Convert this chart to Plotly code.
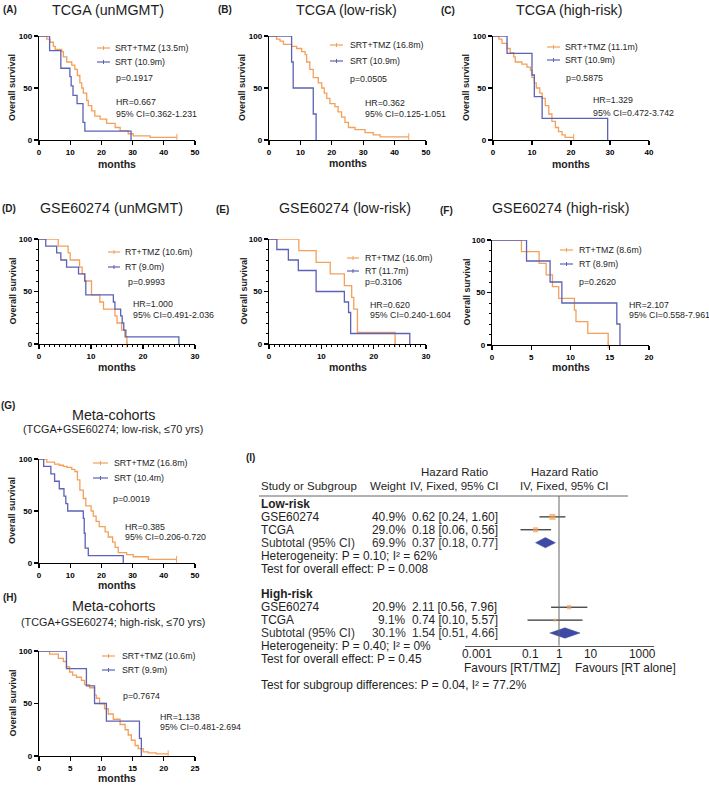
import plotly.graph_objects as go

W, H = 709, 785
def px(x): return x / W
def py(y): return 1 - y / H

ORANGE = "#F4A05A"
BLUE = "#5C62B5"
NAVY = "#3E4AA3"
FONT = "Liberation Sans, Arial, sans-serif"
TXT = "#1e1e1e"

# ---------------- Kaplan-Meier data (months, % survival) ----------------
A_tmz_t = [0, 2.5, 3.5, 4.6, 5.2, 7.3, 7.8, 8.9, 10.5, 11.5, 12.3, 13.1, 13.7, 14.2, 15.3, 15.8, 16.9, 17.9, 19.6, 21.7, 24.4, 26.0, 28.6, 30.2, 35.6, 44.2]
A_tmz_s = [100, 97, 94, 90, 87, 85, 80, 75, 72, 68, 62, 55, 50, 45, 38, 33, 28, 23, 20, 16, 12, 9, 6, 4, 2.5, 2.5]
A_srt_t = [0, 3.4, 7.0, 9.9, 10.3, 10.9, 12.2, 14.1, 14.7, 29.5]
A_srt_s = [100, 86, 69, 61, 52, 43, 35, 17, 8.6, 0]

B_tmz_t = [0, 2.4, 3.5, 4.6, 7.2, 8.8, 10.4, 11.5, 12.0, 13.0, 14.1, 15.7, 16.8, 17.6, 18.4, 19.4, 21.0, 22.0, 23.1, 24.2, 25.3, 27.4, 30.6, 33.2, 35.4, 44.5]
B_tmz_s = [100, 97, 95, 92, 90, 88, 85, 82, 75, 68, 60, 55, 50, 45, 40, 35, 32, 27, 22, 17, 12, 10, 7, 5, 3, 3]
B_srt_t = [0, 7.2, 7.7, 14.1, 15.0]
B_srt_s = [100, 75, 50, 25, 0]

C_tmz_t = [0, 1.5, 2.3, 3.6, 4.4, 5.3, 5.7, 7.4, 8.7, 9.6, 10.0, 10.6, 11.1, 12.0, 12.6, 13.4, 14.3, 15.1, 16.0, 16.8, 17.7, 18.5, 20.7]
C_tmz_s = [100, 97, 93, 88, 84, 80, 75, 73, 70, 67, 60, 55, 50, 45, 40, 33, 25, 18, 12, 8, 5, 2.5, 2.5]
C_srt_t = [0, 3.6, 10.0, 10.6, 12.6, 29.4]
C_srt_s = [100, 83.3, 62.5, 41.7, 20.8, 0]

D_tmz_t = [0, 3.7, 5.6, 6.0, 7.8, 8.3, 8.8, 10.1, 11.7, 12.4, 14.6, 15.0, 15.9, 16.5, 16.9]
D_tmz_s = [100, 93.3, 86.7, 80, 73.3, 66.7, 60, 46.7, 40, 33.3, 26.7, 20, 13.3, 6.7, 0]
D_rt_t = [0, 1.3, 3.4, 4.2, 5.3, 7.6, 8.8, 9.0, 14.3, 14.6, 15.7, 16.0, 16.3, 16.7, 26.9]
D_rt_s = [100, 93.3, 86.7, 80, 73.3, 66.7, 60, 46.7, 40, 33.3, 26.7, 20, 13.3, 6.7, 0]

E_tmz_t = [0, 5.7, 9.0, 11.7, 14.4, 15.8, 16.2, 16.9, 24.1]
E_tmz_s = [100, 88.9, 77.8, 66.7, 55.6, 44.4, 33.3, 11.1, 0]
E_rt_t = [0, 1.5, 3.7, 5.6, 9.0, 14.4, 15.2, 15.6, 26.9]
E_rt_s = [100, 90, 80, 70, 50, 40, 30, 10, 0]

F_tmz_t = [0, 3.75, 6.0, 6.9, 7.7, 8.5, 10.5, 10.7, 12.2, 14.8]
F_tmz_s = [100, 88.9, 77.8, 66.7, 55.6, 44.4, 33.3, 22.2, 11.1, 0]
F_rt_t = [0, 4.4, 7.4, 8.9, 15.9, 16.3]
F_rt_s = [100, 80, 60, 40, 20, 0]

G_tmz_t = [0, 2.5, 5.0, 6.5, 7.8, 9.0, 10.5, 11.5, 12.3, 13.1, 14.2, 15.0, 16.7, 17.4, 18.3, 19.3, 21.2, 22.2, 23.6, 24.4, 25.4, 28.1, 30.2, 35.0, 44.1]
G_tmz_s = [100, 97, 95, 94, 93, 92, 90, 88, 80, 70, 62, 55, 50, 45, 40, 35, 30, 25, 20, 15, 10, 8, 6, 3.5, 3.5]
G_srt_t = [0, 1.5, 3.8, 5.0, 6.5, 8.0, 8.6, 9.2, 14.2, 14.5, 14.8, 15.8, 27.0]
G_srt_s = [100, 92.9, 85.7, 78.6, 71.4, 64.3, 57.1, 50, 42.9, 28.6, 14.3, 7.1, 0]

H_tmz_t = [0, 1.7, 3.1, 3.9, 4.4, 4.9, 5.4, 6.0, 6.8, 7.3, 8.1, 8.9, 9.2, 9.7, 10.5, 11.1, 11.9, 13.0, 13.8, 14.3, 14.8, 15.4, 15.9, 16.7, 17.5, 18.8, 20.7]
H_tmz_s = [100, 97, 93, 90, 85, 80, 77, 75, 72, 68, 65, 58, 55, 50, 45, 40, 35, 30, 25, 20, 15, 10, 7, 4, 3, 2, 2]
H_srt_t = [0, 4.4, 7.6, 8.9, 10.8, 16.1, 16.4]
H_srt_s = [100, 83.3, 66.7, 50, 33.3, 16.7, 0]

# ---------------- panel texts ----------------
panel_letters = ["(A)", "(B)", "(C)", "(D)", "(E)", "(F)", "(G)", "(H)"]
panel_titles = ["TCGA (unMGMT)", "TCGA (low-risk)", "TCGA (high-risk)",
                "GSE60274 (unMGMT)", "GSE60274 (low-risk)", "GSE60274 (high-risk)",
                "Meta-cohorts", "Meta-cohorts"]
panel_subtitles = ["", "", "", "", "", "",
                   "(TCGA+GSE60274; low-risk, ≤70 yrs)", "(TCGA+GSE60274; high-risk, ≤70 yrs)"]
legend_tmz = ["SRT+TMZ (13.5m)", "SRT+TMZ (16.8m)", "SRT+TMZ (11.1m)",
              "RT+TMZ (10.6m)", "RT+TMZ (16.0m)", "RT+TMZ (8.6m)",
              "SRT+TMZ (16.8m)", "SRT+TMZ (10.6m)"]
legend_ctl = ["SRT (10.9m)", "SRT (10.9m)", "SRT (10.9m)",
              "RT (9.0m)", "RT (11.7m)", "RT (8.9m)",
              "SRT (10.4m)", "SRT (9.9m)"]
p_values = ["p=0.1917", "p=0.0505", "p=0.5875", "p=0.9993", "p=0.3106", "p=0.2620", "p=0.0019", "p=0.7674"]
hr_values = ["HR=0.667", "HR=0.362", "HR=1.329", "HR=1.000", "HR=0.620", "HR=2.107", "HR=0.385", "HR=1.138"]
ci_values = ["95% CI=0.362-1.231", "95% CI=0.125-1.051", "95% CI=0.472-3.742", "95% CI=0.491-2.036",
             "95% CI=0.240-1.604", "95% CI=0.558-7.961", "95% CI=0.206-0.720", "95% CI=0.481-2.694"]
x_max = [50, 50, 40, 30, 30, 20, 50, 25]
x_dtick = [10, 10, 10, 10, 10, 5, 10, 5]
x_minor = [False, False, False, True, True, False, False, False]
y_minor = [False, False, False, True, True, True, False, False]

curves = [(A_tmz_t, A_tmz_s, A_srt_t, A_srt_s), (B_tmz_t, B_tmz_s, B_srt_t, B_srt_s),
          (C_tmz_t, C_tmz_s, C_srt_t, C_srt_s), (D_tmz_t, D_tmz_s, D_rt_t, D_rt_s),
          (E_tmz_t, E_tmz_s, E_rt_t, E_rt_s), (F_tmz_t, F_tmz_s, F_rt_t, F_rt_s),
          (G_tmz_t, G_tmz_s, G_srt_t, G_srt_s), (H_tmz_t, H_tmz_s, H_srt_t, H_srt_s)]

# ---------------- forest plot data ----------------
fp_study = ["GSE60274", "TCGA", "GSE60274", "TCGA"]
fp_weight = [40.9, 29.0, 20.9, 9.1]
fp_hr = [0.62, 0.18, 2.11, 0.74]
fp_lo = [0.24, 0.06, 0.56, 0.10]
fp_hi = [1.60, 0.56, 7.96, 5.57]
fp_row = [1, 2, 8, 9]
sub_weight = [69.9, 30.1]
sub_hr = [0.37, 1.54]
sub_lo = [0.18, 0.51]
sub_hi = [0.77, 4.66]
sub_row = [3, 10]
fp_ticktext = ["0.001", "0.1", "1", "10", "1000"]
fp_ticklabel_px = [477, 530, 559, 591, 642]   # label centres (pixels)

# ---------------- layout geometry (pixels) ----------------
boxes = [(39, 195, 36, 140), (269, 426, 36, 140), (493, 649, 36, 140),
         (39, 195, 239, 344), (269, 426, 239, 344), (492, 649, 240, 345),
         (39, 195, 459, 563), (39, 195, 651, 756)]
title_pos = [(108, 10), (346, 10), (569, 10), (111, 208), (345, 208), (560, 208), (113, 415), (113, 606)]
letter_pos = [(10, 10), (225, 10), (448, 11), (9, 209), (222, 210), (446, 211), (8, 405), (10, 597)]
sub_pos = [None] * 6 + [(113, 429), (113, 622)]
leg_line = [(97, 110, 48, 62), (330, 343, 45, 61), (547, 560, 47, 60), (108, 120, 252, 267),
            (347, 359, 258, 271), (560, 573, 250, 264), (93, 108, 463, 478), (102, 115, 656, 670)]
leg_text_x = [113, 348, 563, 123, 363, 577, 112, 120]
p_pos = [(114, 78), (348, 79), (564, 78), (126, 282), (363, 282), (577, 282), (111, 499), (121, 696)]
hr_pos = [(114, 102, 114), (363, 103, 114), (591, 100, 113), (131, 304, 315),
          (368, 305, 315), (627, 305, 315), (123, 527, 537), (158, 717, 727)]
ylab_x = [12, 242, 466, 12, 243, 466, 12, 12]
xlab_y = [164, 163, 164, 367, 367, 367, 585, 778]

fig = go.Figure()
annotations = []
shapes = []

def ann(x, y, text, size, xanchor="left", bold=False, color=TXT, xref="paper", yref="paper", textangle=0):
    annotations.append(dict(x=x, y=y, xref=xref, yref=yref, text=text, showarrow=False,
                            xanchor=xanchor, yanchor="middle", textangle=textangle,
                            font=dict(family=FONT, size=size, color=color,
                                      weight="bold" if bold else "normal")))

MINOR_ON = dict(ticklen=2, tickwidth=1, ticks="outside", tickcolor="black")
layout_axes = {}
for i in range(8):
    n = i + 1
    xl, xr, yt, yb = boxes[i]
    ax_common = dict(showline=True, linecolor="black", linewidth=1.3, ticks="outside",
                     ticklen=4, tickwidth=1.3, tickcolor="black", showgrid=False, zeroline=False,
                     tickfont=dict(family=FONT, size=8, color="black", weight="bold"))
    xminor = dict(dtick=1, **MINOR_ON) if x_minor[i] else dict(ticks="")
    yminor = dict(dtick=10, **MINOR_ON) if y_minor[i] else dict(ticks="")
    layout_axes[f"xaxis{n}"] = dict(domain=[px(xl), px(xr)], range=[0, x_max[i]], dtick=x_dtick[i],
                                    anchor=f"y{n}", minor=xminor, **ax_common)
    layout_axes[f"yaxis{n}"] = dict(domain=[py(yb), py(yt)], range=[0, 100], tickvals=[0, 50, 100],
                                    anchor=f"x{n}", minor=yminor, **ax_common)
    t1, s1, t2, s2 = curves[i]
    fig.add_trace(go.Scatter(x=t1, y=s1, mode="lines", line=dict(color=ORANGE, width=1.3, shape="hv"),
                             xaxis=f"x{n}", yaxis=f"y{n}", cliponaxis=False, showlegend=False))
    fig.add_trace(go.Scatter(x=t2, y=s2, mode="lines", line=dict(color=BLUE, width=1.3, shape="hv"),
                             xaxis=f"x{n}", yaxis=f"y{n}", cliponaxis=False, showlegend=False))
    fig.add_trace(go.Scatter(x=[t1[-1]], y=[s1[-1]], mode="markers",
                             marker=dict(symbol="line-ns", size=5, line=dict(color=ORANGE, width=1)),
                             xaxis=f"x{n}", yaxis=f"y{n}", cliponaxis=False, showlegend=False))
    tx, ty = title_pos[i]
    ann(px(tx), py(ty), panel_titles[i], 14.3, xanchor="center")
    lx, ly = letter_pos[i]
    ann(px(lx), py(ly), panel_letters[i], 10, xanchor="center", bold=True)
    if sub_pos[i]:
        sx, sy = sub_pos[i]
        ann(px(sx), py(sy), panel_subtitles[i], 10.8, xanchor="center")
    l0, l1, ly1, ly2 = leg_line[i]
    for col, yy in ((ORANGE, ly1), (BLUE, ly2)):
        shapes.append(dict(type="line", xref="paper", yref="paper", x0=px(l0), x1=px(l1),
                           y0=py(yy), y1=py(yy), line=dict(color=col, width=1.2)))
        mx = (l0 + l1) / 2
        shapes.append(dict(type="line", xref="paper", yref="paper", x0=px(mx), x1=px(mx),
                           y0=py(yy - 2), y1=py(yy + 2), line=dict(color=col, width=1)))
    ann(px(leg_text_x[i]), py(ly1), legend_tmz[i], 8.8)
    ann(px(leg_text_x[i]), py(ly2), legend_ctl[i], 8.8)
    ppx, ppy = p_pos[i]
    ann(px(ppx), py(ppy), p_values[i], 8.8)
    hx, hy, cy = hr_pos[i]
    ann(px(hx), py(hy), hr_values[i], 8.8)
    ann(px(hx), py(cy), ci_values[i], 8.8)
    ann(px(ylab_x[i]), py((yt + yb) / 2), "Overall survival", 9, xanchor="center", bold=True, textangle=-90)
    ann(px((xl + xr) / 2), py(xlab_y[i]), "months", 10.5, xanchor="center", bold=True)

# ---------------- forest plot ----------------
ROW0, ROWH = 504.0, 12.9
row_top, row_bot = -1, 14.5
FS = 11.9
layout_axes["xaxis9"] = dict(type="log", range=[-3, 3], domain=[px(464.5), px(653.5)],
                             anchor="free", position=py(645.7),
                             showline=True, linecolor="#555", linewidth=1, ticks="",
                             showticklabels=False, showgrid=False, zeroline=False)
layout_axes["yaxis9"] = dict(domain=[py(ROW0 + ROWH * row_bot), py(ROW0 + ROWH * row_top)],
                             range=[row_bot, row_top], visible=False, anchor="x9")

wx, wy = [], []
for lo, hi, r in zip(fp_lo, fp_hi, fp_row):
    wx += [lo, hi, None]
    wy += [r, r, None]
fig.add_trace(go.Scatter(x=wx, y=wy, mode="lines", line=dict(color="black", width=1),
                         xaxis="x9", yaxis="y9", showlegend=False, cliponaxis=False))
fig.add_trace(go.Scatter(x=fp_hr, y=fp_row, mode="markers",
                         marker=dict(symbol="square", color=ORANGE,
                                     size=[w ** 0.5 * 0.95 for w in fp_weight], line=dict(width=0)),
                         xaxis="x9", yaxis="y9", showlegend=False, cliponaxis=False))
for lo, hr, hi, r in zip(sub_lo, sub_hr, sub_hi, sub_row):
    h = 0.4
    fig.add_trace(go.Scatter(x=[lo, hr, hi, hr, lo], y=[r, r - h, r, r + h, r], mode="lines",
                             fill="toself", fillcolor=NAVY, line=dict(color=NAVY, width=0.5),
                             xaxis="x9", yaxis="y9", showlegend=False, cliponaxis=False))

shapes.append(dict(type="line", xref="x9", yref="paper", x0=1, x1=1, y0=py(645.7), y1=py(496),
                   line=dict(color="#666", width=1)))
shapes.append(dict(type="line", xref="paper", yref="paper", x0=px(259), x1=px(628), y0=py(496), y1=py(496),
                   line=dict(color="#666", width=1)))

def rowy(r): return py(ROW0 + ROWH * r)
HFS = 11.5
ann(px(250), py(457), "(I)", 10, xanchor="center", bold=True)
ann(px(454), py(471.5), "Hazard Ratio", HFS, xanchor="center")
ann(px(454), py(485.5), "IV, Fixed, 95% CI", HFS, xanchor="center")
ann(px(564), py(471.5), "Hazard Ratio", HFS, xanchor="center")
ann(px(564), py(485.5), "IV, Fixed, 95% CI", HFS, xanchor="center")
ann(px(259), py(485.5), "Study or Subgroup", HFS)
ann(px(407.7), py(485.5), "Weight", HFS, xanchor="right")

group_names = ["Low-risk", "High-risk"]
group_rows = [0, 7]
for g, r in zip(group_names, group_rows):
    ann(px(259), rowy(r), g, FS, bold=True)
for name, w, hr, lo, hi, r in zip(fp_study, fp_weight, fp_hr, fp_lo, fp_hi, fp_row):
    ann(px(259), rowy(r), name, FS)
    ann(px(407.7), rowy(r), f"{w:.1f}%", FS, xanchor="right")
    ann(px(410), rowy(r), f"{hr:.2f} [{lo:.2f}, {hi:.2f}]", FS)
for w, hr, lo, hi, r in zip(sub_weight, sub_hr, sub_lo, sub_hi, sub_row):
    ann(px(259), rowy(r), "Subtotal (95% CI)", FS, color="#333")
    ann(px(407.7), rowy(r), f"{w:.1f}%", FS, xanchor="right", color="#333")
    ann(px(410), rowy(r), f"{hr:.2f} [{lo:.2f}, {hi:.2f}]", FS, color="#333")
het_text = ["Heterogeneity: P = 0.10; I² = 62%", "Heterogeneity: P = 0.40; I² = 0%"]
eff_text = ["Test for overall effect: P = 0.008", "Test for overall effect: P = 0.45"]
for k, r in enumerate([4, 11]):
    ann(px(259), rowy(r), het_text[k], FS)
    ann(px(259), rowy(r + 1), eff_text[k], FS)
ann(px(259), rowy(14), "Test for subgroup differences: P = 0.04, I² = 77.2%", FS)
for lab, cx in zip(fp_ticktext, fp_ticklabel_px):
    ann(px(cx), py(654), lab, FS, xanchor="center")
ann(px(562), py(668), "Favours [RT/TMZ]", FS, xanchor="right")
ann(px(573), py(668), "Favours [RT alone]", FS)

fig.update_layout(width=W, height=H, margin=dict(l=0, r=0, t=0, b=0, autoexpand=False),
                  paper_bgcolor="white", plot_bgcolor="white",
                  annotations=annotations, shapes=shapes, showlegend=False,
                  font=dict(family=FONT), **layout_axes)
fig.write_html("out.html", config={"displayModeBar": False, "staticPlot": True},
               post_script="document.body.style.margin='0px';document.body.style.overflow='hidden';")
